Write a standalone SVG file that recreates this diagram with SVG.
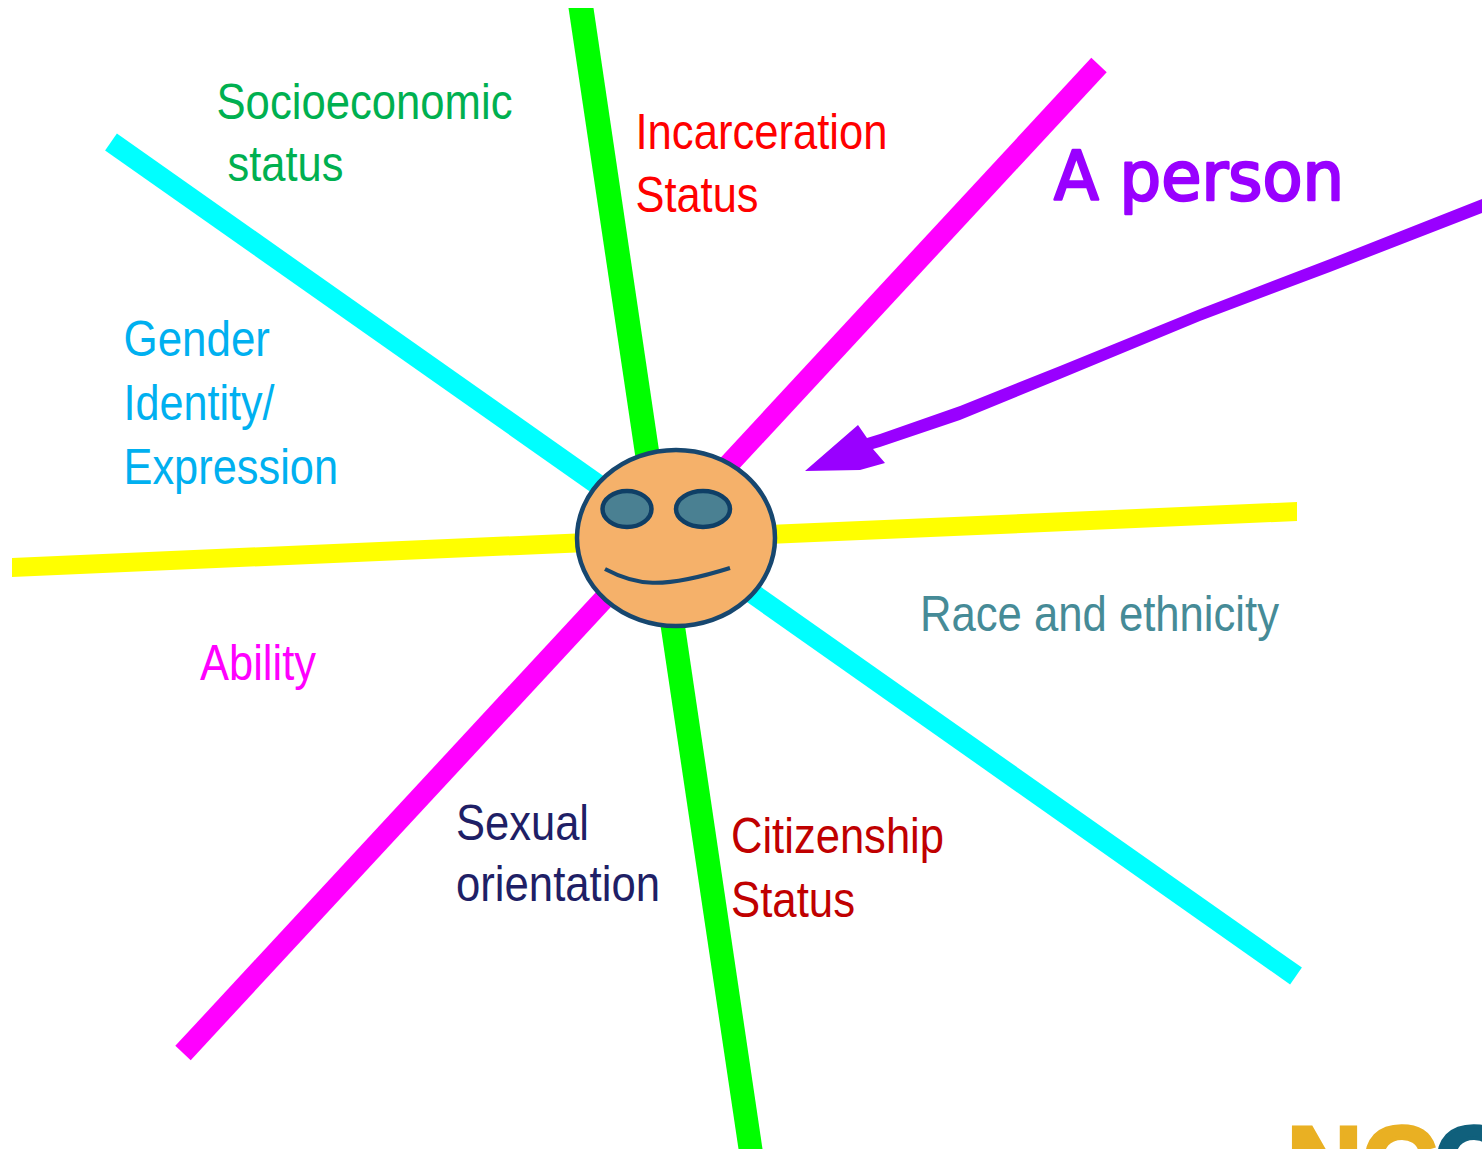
<svg xmlns="http://www.w3.org/2000/svg" width="1482" height="1149" viewBox="0 0 1482 1149">
<style>
.ray{fill:none;stroke-linecap:butt}
.lbl{font-family:"Liberation Sans",Arial,sans-serif;font-size:50px}
.logo{font-family:"Liberation Sans",Arial,sans-serif;font-size:104px;font-weight:bold;stroke-width:4}
.hand{font-family:"DejaVu Sans",sans-serif;font-size:68px;fill:#9900ff;stroke:#9900ff;stroke-width:2.500;stroke-linejoin:round}
.face{fill:#f5b16a;stroke:#17476f;stroke-width:4.500}
.eye{fill:#4a8092;stroke:#0f3f66;stroke-width:4.500}
</style>
<rect width="1482" height="1149" fill="#fff"/>
<g id="connectors">
<path d="M568.500 8H593.500L762.500 1149H738.500Z" fill="#00ff00"/>
<path class="ray" d="M111 142L1296 976" stroke="#00ffff" stroke-width="20.500"/>
<path class="ray" d="M1099 65L183 1053" stroke="#ff00ff" stroke-width="21"/>
<path d="M12 558L1297 502V521L12 577Z" fill="#ffff00"/>
<path id="pointer" d="M1482 199V213L1330 272L1200 321L1060 379L960 420L880 447L873 449L885 463L860 470L805 471L858 425L867 438L880 434L960 406L1060 366L1200 309L1330 259Z" fill="#9900ff"/>
</g>
<g id="person">
<ellipse class="face" cx="676" cy="538" rx="99" ry="88"/>
<ellipse class="eye" cx="627" cy="509" rx="24.500" ry="18"/>
<ellipse class="eye" cx="703" cy="509" rx="27" ry="18"/>
<path d="M605 569C635 585 660 590 730 568" fill="none" stroke="#17476f" stroke-width="4"/>
</g>
<g id="label-socioeconomic" fill="#00b050" class="lbl"><text x="216.500" y="119" textLength="296" lengthAdjust="spacingAndGlyphs">Socioeconomic</text><text x="227.500" y="180.500" textLength="116" lengthAdjust="spacingAndGlyphs">status</text></g>
<g id="label-incarceration" fill="#ff0000" class="lbl"><text x="635.500" y="148.500" textLength="252" lengthAdjust="spacingAndGlyphs">Incarceration</text><text x="635.500" y="212" textLength="123" lengthAdjust="spacingAndGlyphs">Status</text></g>
<g id="label-person"><text class="hand" x="1054" y="200" textLength="290" lengthAdjust="spacingAndGlyphs">A person</text></g>
<g id="label-gender" fill="#00b0f0" class="lbl"><text x="123.500" y="356" textLength="146.500" lengthAdjust="spacingAndGlyphs">Gender</text><text x="123.500" y="420" textLength="151" lengthAdjust="spacingAndGlyphs">Identity/</text><text x="123.500" y="484" textLength="214.500" lengthAdjust="spacingAndGlyphs">Expression</text></g>
<g id="label-race" fill="#468b97" class="lbl"><text x="920" y="631" textLength="359" lengthAdjust="spacingAndGlyphs">Race and ethnicity</text></g>
<g id="label-ability" fill="#ff00ff" class="lbl"><text x="200" y="679.500" textLength="116" lengthAdjust="spacingAndGlyphs">Ability</text></g>
<g id="label-sexual" fill="#1f1f66" class="lbl"><text x="456" y="839.500" textLength="133" lengthAdjust="spacingAndGlyphs">Sexual</text><text x="456" y="900.500" textLength="204" lengthAdjust="spacingAndGlyphs">orientation</text></g>
<g id="label-citizenship" fill="#c00000" class="lbl"><text x="731" y="852.500" textLength="213" lengthAdjust="spacingAndGlyphs">Citizenship</text><text x="731" y="916.500" textLength="124" lengthAdjust="spacingAndGlyphs">Status</text></g>
<g id="logo"><text class="logo" x="1287" y="1199" fill="#e9b023" stroke="#e9b023">NC</text><text class="logo" x="1434" y="1199" fill="#10607c" stroke="#10607c">C</text></g>
</svg>
